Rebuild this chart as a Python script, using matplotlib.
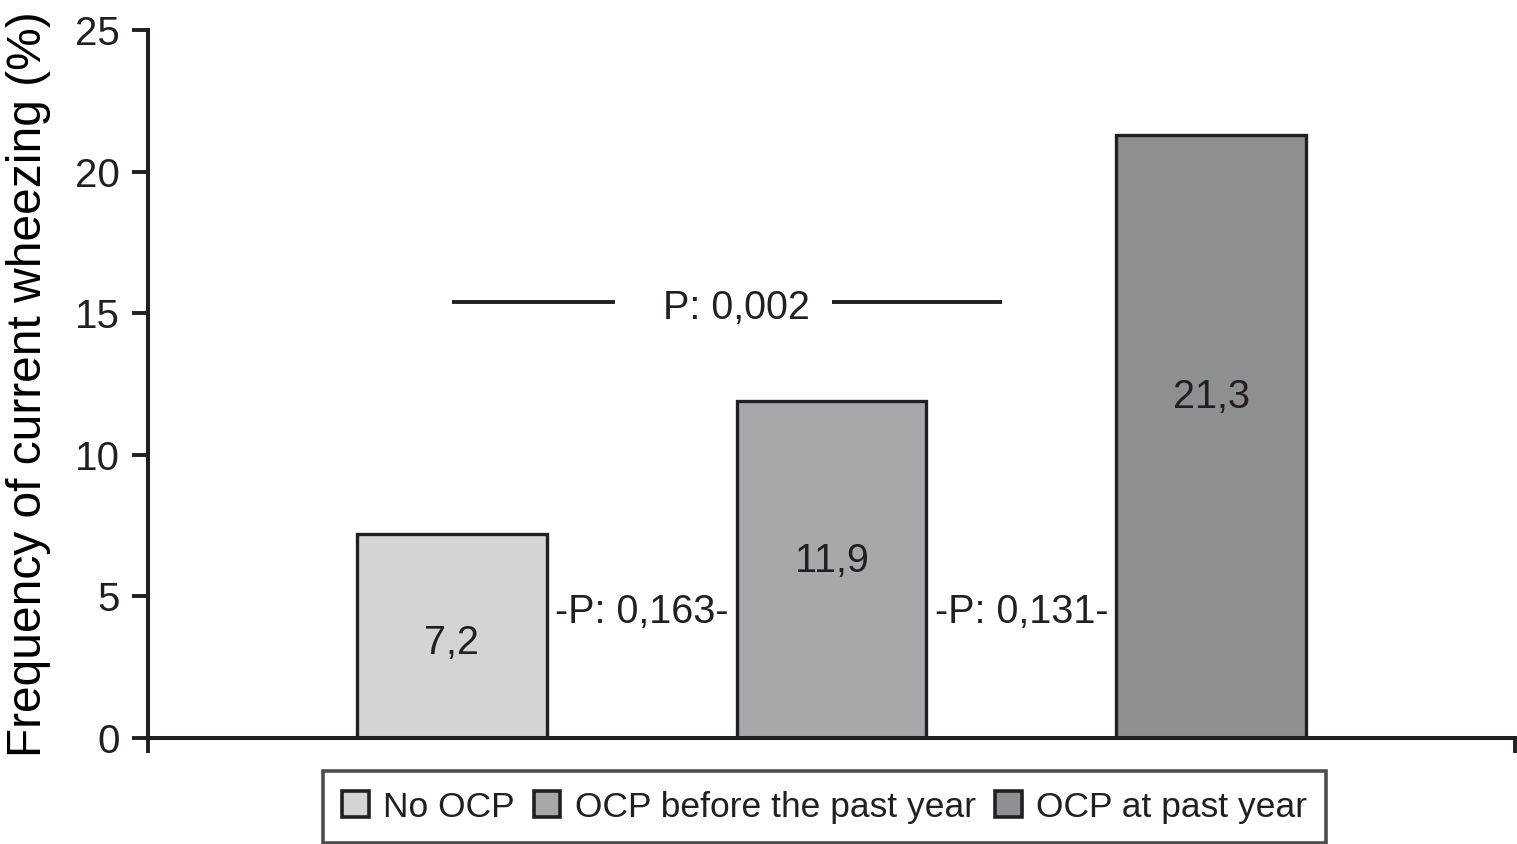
import numpy as np
import matplotlib
matplotlib.use("Agg")
import matplotlib.pyplot as plt
from matplotlib.patches import Patch

# ── Datos ────────────────────────────────────────────────────────────────────
grupos   = ["No OCP", "OCP before the past year", "OCP at past year"]
valores  = [7.2, 11.9, 21.3]
etiquetas = ["7,2", "11,9", "21,3"]
colores  = ["#d3d4d6", "#a7a8ab", "#8e8f92"]

p_pares   = ["-P: 0,163-", "-P: 0,131-"]
p_global  = "P: 0,002"

# posiciones de las etiquetas (unidades de datos)
y_etiquetas = [3.35, 6.25, 12.05]
y_p_pares   = 4.45
y_p_global  = 15.4

NEGRO = "#231f20"
plt.rcParams["font.family"] = ["Liberation Sans", "DejaVu Sans"]
plt.rcParams["text.color"] = NEGRO

# ── Figura ──────────────────────────────────────────────────────────────────
fig = plt.figure(figsize=(15.17, 8.44), dpi=100)
ax = fig.add_axes([0.0976, 0.1256, 0.9011, 0.8389])

x = np.arange(len(grupos))
ax.bar(x, valores, width=0.5, color=colores, edgecolor=NEGRO, linewidth=2.4, zorder=2)

for xi, yi, txt in zip(x, y_etiquetas, etiquetas):
    ax.text(xi, yi, txt, ha="center", va="center", fontsize=28.5)

for i, txt in enumerate(p_pares):
    ax.text(x[i] + 0.5, y_p_pares, txt, ha="center", va="center", fontsize=28.5)

# línea de comparación global
ax.text(0.75, y_p_global - 0.2, p_global, ha="center", va="center", fontsize=28.5)
ax.plot([0.0, 0.43], [y_p_global, y_p_global], color=NEGRO, lw=2.8, solid_capstyle="butt")
ax.plot([1.0, 1.45], [y_p_global, y_p_global], color=NEGRO, lw=2.8, solid_capstyle="butt")

ax.set_xlim(-0.8, 2.8)
ax.set_ylim(0, 25)
ax.set_yticks([0, 5, 10, 15, 20, 25])
ax.set_xticks([-0.8, 2.8])
ax.set_xticklabels([])
ax.tick_params(axis="y", direction="out", length=11.5, width=2.8, pad=9,
               labelsize=29, colors=NEGRO)
ax.tick_params(axis="x", direction="out", length=11, width=2.8, colors=NEGRO)

for s in ["top", "right"]:
    ax.spines[s].set_visible(False)
for s in ["left", "bottom"]:
    ax.spines[s].set_linewidth(2.9)
    ax.spines[s].set_color(NEGRO)

ax.set_ylabel("Frequency of current wheezing (%)", fontsize=34.5, labelpad=17)

# ── Leyenda ─────────────────────────────────────────────────────────────────
handles = [Patch(facecolor=c, edgecolor=NEGRO, linewidth=2.6) for c in colores]
leg = fig.legend(handles, grupos, loc="center", bbox_to_anchor=(0.5435, 0.0435),
                 ncol=3, fontsize=25.5, frameon=True, fancybox=False,
                 handlelength=0.75, handleheight=0.75, handletextpad=0.4,
                 columnspacing=0.55, borderpad=0.55, borderaxespad=0)
leg.get_frame().set_edgecolor(NEGRO)
leg.get_frame().set_linewidth(2.6)

plt.savefig("out.png", dpi=100)
